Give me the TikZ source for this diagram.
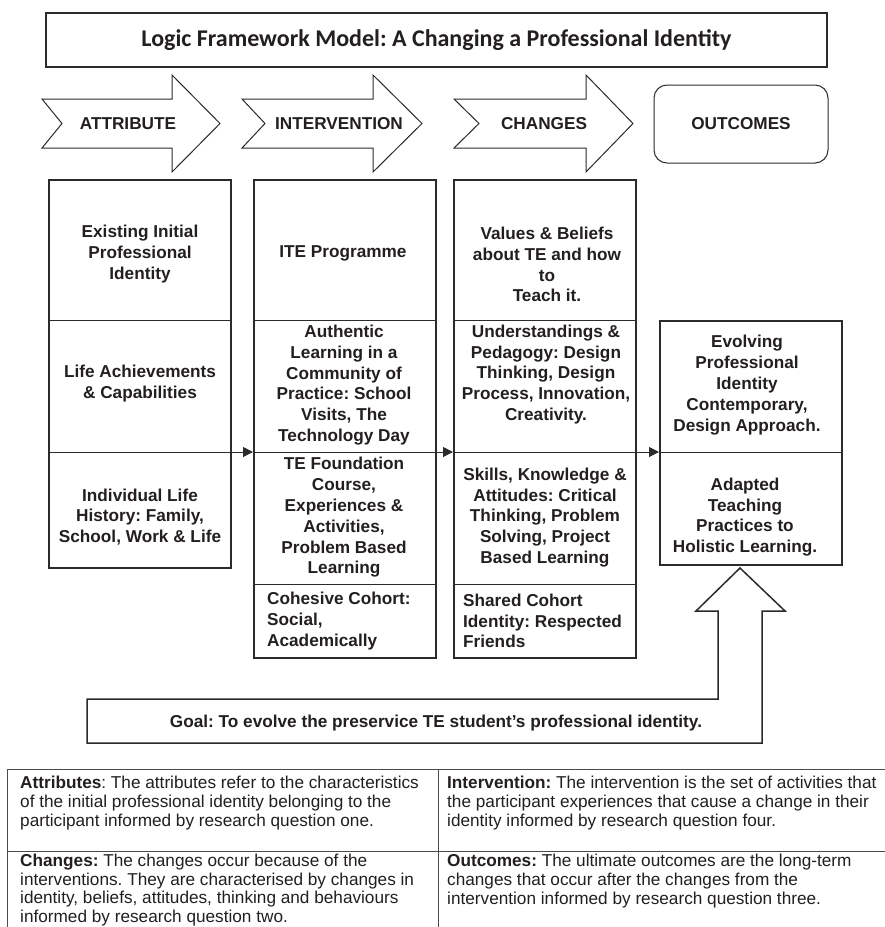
\documentclass[tikz,border=0pt]{standalone}
\usepackage{fontspec}
\setmainfont{Liberation Sans}
\newfontfamily\titlefont{Carlito}
\usetikzlibrary{arrows.meta}
\definecolor{ink}{HTML}{231F20}
\definecolor{linec}{HTML}{2B2B2B}
\frenchspacing
\begin{document}
\frenchspacing
\begin{tikzpicture}[x=1pt,y=-1pt,
 txt/.style={font=\fontsize{17.2}{20.8}\selectfont\bfseries\frenchspacing, text=ink, align=center, inner sep=0pt},
 ltxt/.style={txt, align=left, anchor=west},
 cell/.style={draw=linec, line width=0.8pt, minimum width=182pt, inner sep=0pt, outer sep=0pt, anchor=north west},
 colbox/.style={draw=linec, line width=2pt},
 chev/.style={draw=linec, line width=1pt, fill=white},
 conn/.style={draw=linec, line width=1pt, shorten >=1pt, -{Triangle[length=10pt,width=10pt]}},
 tbl/.style={draw=linec!85, line width=0.9pt},
 tabtxt/.style={font=\fontsize{17.2}{18.8}\selectfont\frenchspacing, text=ink, align=left, inner sep=0pt, anchor=west},
]
\useasboundingbox (0,0) rectangle (885,927);
\fill[white] (0,0) rectangle (885,927);

% title
\node[draw=linec, line width=1.3pt, minimum width=781pt, minimum height=54pt, inner sep=0pt, text=ink]
  (title) at (436.5,40) {\titlefont\fontsize{24}{28}\selectfont\bfseries\frenchspacing Logic Framework Model: A Changing a Professional Identity};

% header chevrons
\draw[chev] (42,99) -- (172,99) -- (172,75) -- (220,123.5) -- (172,172) -- (172,148) -- (42,148) -- (62,123.5) -- cycle;
\node[txt] (attr) at (128,123.5) {ATTRIBUTE};
\draw[chev] (242,99) -- (373,99) -- (373,75) -- (422,123.5) -- (373,172) -- (373,148) -- (242,148) -- (265,123.5) -- cycle;
\node[txt] (interv) at (339,123.5) {INTERVENTION};
\draw[chev] (454,99) -- (586,99) -- (586,75) -- (633,123.5) -- (586,172) -- (586,148) -- (454,148) -- (479,123.5) -- cycle;
\node[txt] (chg) at (544,123.5) {CHANGES};
\node[txt, draw=linec, line width=1pt, rounded corners=13pt, minimum width=174pt, minimum height=78pt]
  (outc) at (741,124) {OUTCOMES};

% column 1
\node[cell, minimum height=140pt] (a1) at (49,180) {};
\node[cell, minimum height=132pt] (a2) at (49,320) {};
\node[cell, minimum height=116pt] (a3) at (49,452) {};
\draw[colbox] (a1.north west) rectangle (a3.south east);
% column 2
\node[cell, minimum height=140pt] (b1) at (254,180) {};
\node[cell, minimum height=132pt] (b2) at (254,320) {};
\node[cell, minimum height=132pt] (b3) at (254,452) {};
\node[cell, minimum height=74pt] (b4) at (254,584) {};
\draw[colbox] (b1.north west) rectangle (b4.south east);
% column 3
\node[cell, minimum height=140pt] (c1) at (454,180) {};
\node[cell, minimum height=132pt] (c2) at (454,320) {};
\node[cell, minimum height=132pt] (c3) at (454,452) {};
\node[cell, minimum height=74pt] (c4) at (454,584) {};
\draw[colbox] (c1.north west) rectangle (c4.south east);
% column 4
\node[cell, minimum height=131pt] (d1) at (660,321) {};
\node[cell, minimum height=113pt] (d2) at (660,452) {};
\draw[colbox] (d1.north west) rectangle (d2.south east);

% connectors
\draw[conn] (a2.south east) -- (b2.south west);
\draw[conn] (b2.south east) -- (c2.south west);
\draw[conn] (c2.south east) -- (d1.south west);

% cell texts
\node[txt] (ta1) at (140,254) {Existing Initial\\Professional\\Identity};
\node[txt] (ta2) at (140,383.5) {Life Achievements\\\& Capabilities};
\node[txt] (ta3) at (140,517) {Individual Life\\History: Family,\\School, Work \& Life};
\node[txt] (tb1) at (343,253) {ITE Programme};
\node[txt] (tb2) at (344,385) {Authentic\\Learning in a\\Community of\\Practice: School\\Visits, The\\Technology Day};
\node[txt] (tb3) at (344,517.5) {TE Foundation\\Course,\\Experiences \&\\Activities,\\Problem Based\\Learning};
\node[ltxt] (tb4) at (267,621) {Cohesive Cohort:\\Social,\\Academically};
\node[txt] (tc1) at (547,264.5) {Values \& Beliefs\\about TE and how\\to\\Teach it.};
\node[txt] (tc2) at (546,374.5) {Understandings \&\\Pedagogy: Design\\Thinking, Design\\Process, Innovation,\\Creativity.};
\node[txt] (tc3) at (545,517.5) {Skills, Knowledge \&\\Attitudes: Critical\\Thinking, Problem\\Solving, Project\\Based Learning};
\node[ltxt] (tc4) at (463,621) {Shared Cohort\\Identity: Respected\\Friends};
\node[txt] (td1) at (747,385) {Evolving\\Professional\\Identity\\Contemporary,\\Design Approach.};
\node[txt] (td2) at (745,517) {Adapted\\Teaching\\Practices to\\Holistic Learning.};

% goal block arrow
\draw[draw=linec, line width=1.5pt, line join=miter] (87,699) -- (718,699) -- (718,611) -- (696,611) -- (740,568) -- (785,611) -- (762,611) -- (762,743) -- (87,743) -- cycle;
\node[txt] (goal) at (436,723) {Goal: To evolve the preservice TE student’s professional identity.};

% bottom table
\draw[tbl] (7,769) -- (885,769);
\draw[tbl] (7,851) -- (885,851);
\draw[tbl] (7,769) -- (7,927);
\draw[tbl] (438,769) -- (438,927);
\node[tabtxt] (t1) at (20,803) {\textbf{Attributes}: The attributes refer to the characteristics\\of the initial professional identity belonging to the\\participant informed by research question one.};
\node[tabtxt] (t2) at (447,803) {\textbf{Intervention:} The intervention is the set of activities that\\the participant experiences that cause a change in their\\identity informed by research question four.};
\node[tabtxt] (t3) at (20,890) {\textbf{Changes:} The changes occur because of the\\interventions. They are characterised by changes in\\identity, beliefs, attitudes, thinking and behaviours\\informed by research question two.};
\node[tabtxt] (t4) at (447,881) {\textbf{Outcomes:} The ultimate outcomes are the long-term\\changes that occur after the changes from the\\intervention informed by research question three.};
\end{tikzpicture}
\end{document}
